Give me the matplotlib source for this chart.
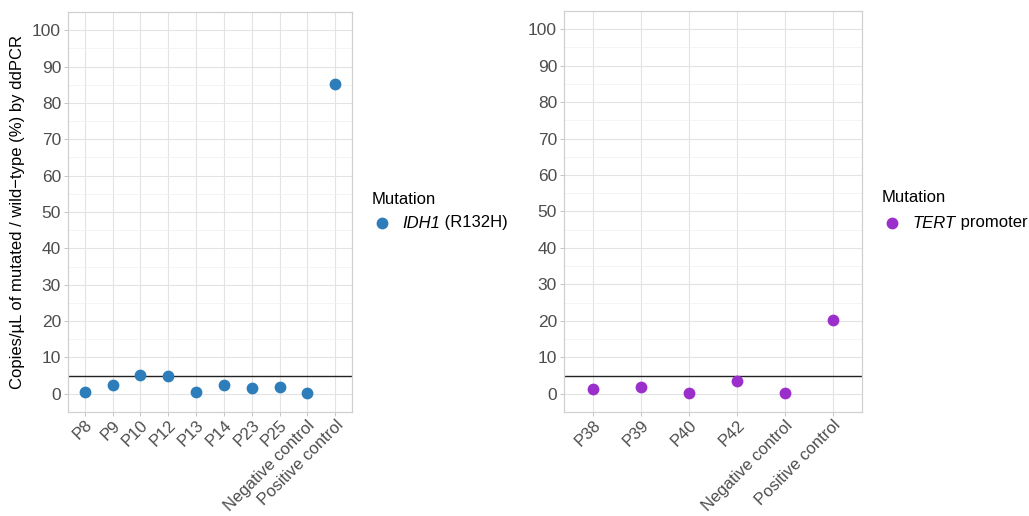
import matplotlib
matplotlib.use("Agg")
import matplotlib.pyplot as plt
from matplotlib.lines import Line2D

plt.rcParams["font.family"] = ["Liberation Sans", "DejaVu Sans"]

# IDH1 panel
idh1_samples = ["P8", "P9", "P10", "P12", "P13", "P14", "P23", "P25",
                "Negative control", "Positive control"]
idh1_values = [0.5, 2.5, 5.3, 4.8, 0.5, 2.3, 1.5, 2.0, 0.1, 85.3]

# TERT panel
tert_samples = ["P38", "P39", "P40", "P42", "Negative control", "Positive control"]
tert_values = [1.2, 1.8, 0.2, 3.6, 0.1, 20.1]

threshold = 5
yticks = list(range(0, 101, 10))

BLUE = "#2C7DBA"
PURPLE = "#9A2FCB"

fig = plt.figure(figsize=(10.29, 5.16), dpi=100)
W, H = 1029, 516


def make_axes(left, right, top, bottom):
    return fig.add_axes([left / W, 1 - bottom / H, (right - left) / W, (bottom - top) / H])


def style_panel(ax, labels, values, color, ncat):
    x = list(range(1, ncat + 1))
    ax.scatter(x, values, s=72, color=color, zorder=3, linewidths=0)
    ax.axhline(threshold, color="#222222", lw=1.0, zorder=2)
    ax.set_xlim(0.4, ncat + 0.6)
    ax.set_ylim(-5, 105)
    ax.set_xticks(x)
    ax.set_xticklabels(labels, rotation=45, ha="right", va="top",
                       rotation_mode="anchor", fontsize=12, color="#4D4D4D")
    ax.set_yticks(yticks)
    ax.set_yticklabels([str(v) for v in yticks], fontsize=12.5, color="#4D4D4D")
    ax.set_yticks(list(range(5, 106, 10)), minor=True)
    ax.grid(True, which="major", color="#E3E3E3", lw=0.8, zorder=0)
    ax.grid(True, which="minor", axis="y", color="#F0F0F0", lw=0.5, zorder=0)
    ax.set_axisbelow(True)
    ax.tick_params(which="major", length=3, width=0.6, color="#BBBBBB", pad=2)
    ax.tick_params(axis="x", which="major", pad=1)
    ax.tick_params(which="minor", length=0)
    for sp in ax.spines.values():
        sp.set_color("#D0D0D0")
        sp.set_linewidth(0.9)


ax1 = make_axes(68, 352, 12, 412)
style_panel(ax1, idh1_samples, idh1_values, BLUE, len(idh1_samples))
ax1.set_ylabel("Copies/\u00b5L of mutated / wild\u2212type (%) by ddPCR",
               fontsize=12, color="black", labelpad=5)

ax2 = make_axes(564, 862, 11, 412)
style_panel(ax2, tert_samples, tert_values, PURPLE, len(tert_samples))

# legends
renderer = fig.canvas.get_renderer()


def legend_entry(title_x, title_y, key_x, text_x, y, color, italic_part, rest):
    fig.text(title_x / W, 1 - title_y / H, "Mutation", fontsize=12, va="center", ha="left")
    fig.add_artist(Line2D([key_x / W], [1 - y / H], marker="o", markersize=8.5,
                          color=color, markeredgewidth=0, transform=fig.transFigure))
    t = fig.text(text_x / W, 1 - y / H, italic_part, fontsize=12, style="italic",
                 va="center", ha="left")
    bb = t.get_window_extent(renderer)
    fig.text(bb.x1 / W, 1 - y / H, rest, fontsize=12, va="center", ha="left")


legend_entry(372, 199, 382, 402, 223, BLUE, "IDH1", " (R132H)")
legend_entry(882, 198, 892, 913, 223, PURPLE, "TERT", " promoter")

fig.savefig("out.png", dpi=100, facecolor="white")
